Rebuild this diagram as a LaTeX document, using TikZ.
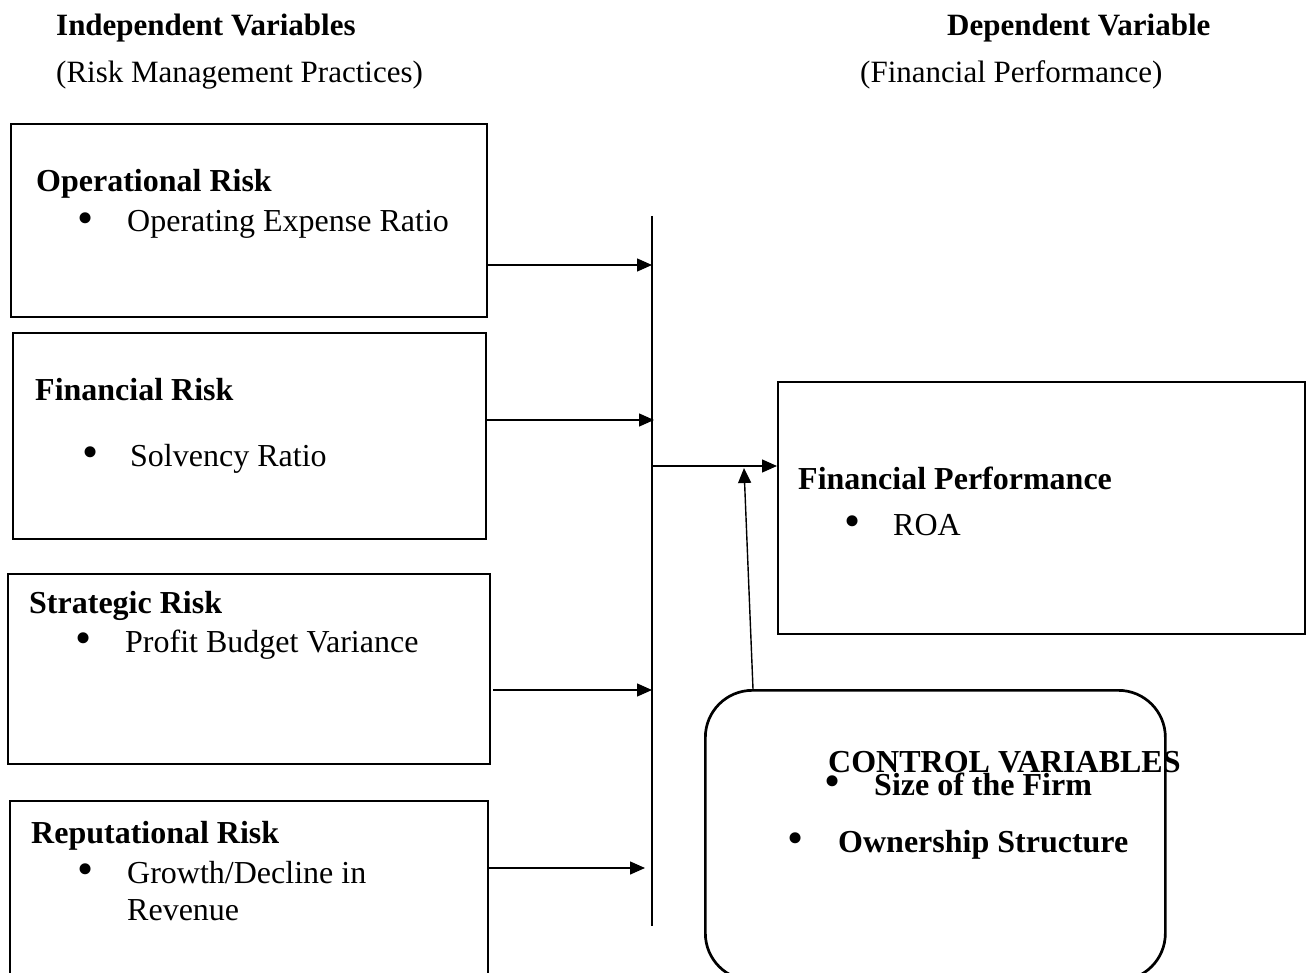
\documentclass[tikz,border=0pt]{standalone}
\usepackage{fontspec}
\setmainfont{Liberation Serif}
\usetikzlibrary{arrows.meta}
\tikzset{
  txt/.style={anchor=base west, inner sep=0pt, font=\fontsize{32pt}{35pt}\selectfont},
  bftxt/.style={txt, font=\fontsize{32pt}{35pt}\selectfont\bfseries},
  htxt/.style={anchor=base west, inner sep=0pt, font=\fontsize{31pt}{34pt}\selectfont},
  hbftxt/.style={htxt, font=\fontsize{31pt}{34pt}\selectfont\bfseries},
  bul/.style={anchor=center, inner sep=0pt, font=\fontsize{46pt}{46pt}\selectfont},
  box/.style={draw, line width=2.4pt, anchor=north west, inner sep=0pt},
  cbox/.style={draw, line width=2.7pt, anchor=north west, inner sep=0pt, rounded corners=47pt},
  conn/.style={line width=1.4pt},
  arr/.style={conn, -{Triangle[length=15pt,width=13pt]}}
}
\begin{document}
\begin{tikzpicture}[x=1pt, y=-1pt]
\useasboundingbox (0,0) rectangle (1306,973);

% headers
\node[hbftxt] (h1) at (56,36) {Independent Variables};
\node[htxt] (h2) at (56,83) {(Risk Management Practices)};
\node[hbftxt] (h3) at (947,36) {Dependent Variable};
\node[htxt] (h4) at (860,83) {(Financial Performance)};

% boxes
\node[box, minimum width=476pt, minimum height=193pt] (op) at (10,123) {};
\node[box, minimum width=473pt, minimum height=206pt] (fin) at (12,332) {};
\node[box, minimum width=482pt, minimum height=190pt] (str) at (7,573) {};
\node[box, minimum width=478pt, minimum height=200pt] (rep) at (9,800) {};
\node[box, minimum width=527pt, minimum height=252pt] (fp) at (777,381) {};
\node[cbox, minimum width=460pt, minimum height=290pt] (ctrl) at (704,689) {};

% box texts
\node[bftxt] (t1) at (36,192) {Operational Risk};
\node[bul] (b1) at (86,223) {•};
\node[txt] (t1a) at (127,232) {Operating Expense Ratio};

\node[bftxt] (t2) at (35,400) {Financial Risk};
\node[bul] (b2) at (91,457) {•};
\node[txt] (t2a) at (130,466) {Solvency Ratio};

\node[bftxt] (t3) at (29,613) {Strategic Risk};
\node[bul] (b3) at (84,643) {•};
\node[txt] (t3a) at (125,652) {Profit Budget Variance};

\node[bftxt] (t4) at (31,843) {Reputational Risk};
\node[bul] (b4) at (86,874) {•};
\node[txt] (t4a) at (127,883) {Growth/Decline in};
\node[txt] (t4b) at (127,920) {Revenue};

\node[bftxt] (t5) at (798,489) {Financial Performance};
\node[bul] (b5) at (853,526) {•};
\node[txt] (t5a) at (893,535) {ROA};

\node[bftxt] (t6) at (828,772) {CONTROL VARIABLES};
\node[bul] (b6) at (833,786) {•};
\node[bftxt] (t6a) at (874,795) {Size of the Firm};
\node[bul] (b7) at (796,843) {•};
\node[bftxt] (t6b) at (838,852) {Ownership Structure};

% vertical collector line
\coordinate (vt) at (652,216);
\coordinate (vb) at (652,926);
\draw[conn] (vt) -- (vb);

% levels
\coordinate (y1) at (0,265);
\coordinate (y2) at (0,420);
\coordinate (y3) at (0,690);
\coordinate (y4) at (0,868);
\coordinate (y5) at (0,466);
\coordinate (y4tip) at (645,868);

\draw[arr] (op.east |- y1) -- (vt |- y1);
\draw[arr] ([xshift=-2pt]fin.east |- y2) -- ([xshift=2pt]vt |- y2);
\draw[arr] ([xshift=2pt]str.east |- y3) -- (vt |- y3);
\draw[arr] (rep.east |- y4) -- (y4tip);
\draw[arr] (vt |- y5) -- (fp.west |- y5);

% control arrow
\coordinate (ctip) at (744,468);
\draw[arr] ([xshift=49pt]ctrl.north west) -- (ctip);
\end{tikzpicture}
\end{document}
